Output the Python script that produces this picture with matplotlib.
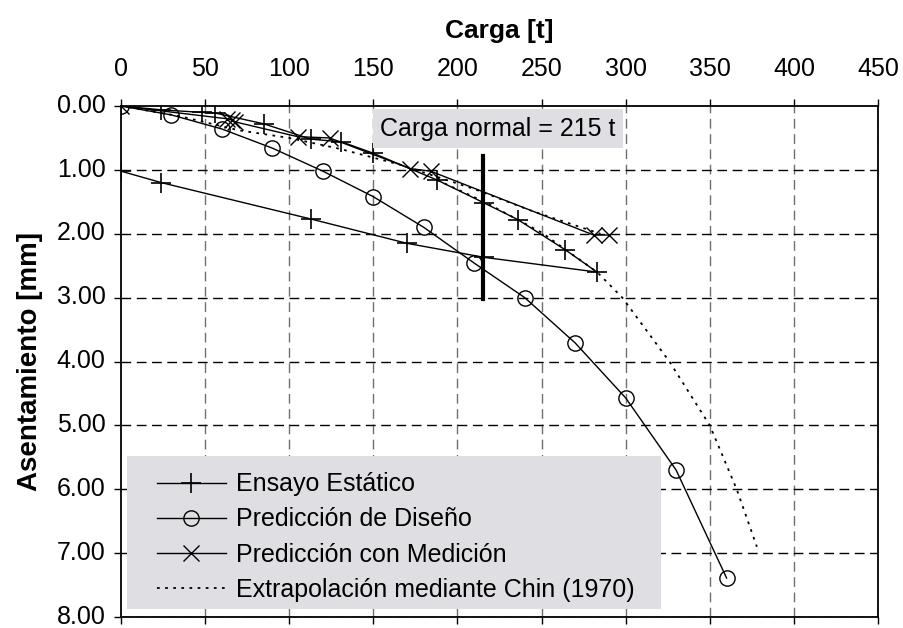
import matplotlib
matplotlib.use("Agg")
import matplotlib.pyplot as plt
from matplotlib.patches import Rectangle
from matplotlib.transforms import ScaledTranslation

plt.rcParams['font.family'] = ['Liberation Sans', 'DejaVu Sans']

# Ensayo Estático (carga / descarga)
ensayo_t = [0, 24, 48, 56, 85, 113, 131, 150, 188, 216, 236, 264, 283, 216, 170, 113, 24, 0]
ensayo_s = [0.00, 0.06, 0.10, 0.11, 0.28, 0.52, 0.56, 0.74, 1.16, 1.52, 1.78, 2.25, 2.60, 2.37, 2.15, 1.77, 1.20, 1.02]

# Predicción de Diseño
diseno_t = [0, 30, 60, 90, 120, 150, 180, 210, 240, 270, 300, 330, 360]
diseno_s = [0.00, 0.14, 0.36, 0.66, 1.02, 1.42, 1.90, 2.46, 3.00, 3.71, 4.57, 5.70, 7.39]

# Predicción con Medición
medicion_t = [0, 63, 66, 68, 105, 124, 172, 184, 281, 290]
medicion_s = [0.00, 0.20, 0.22, 0.25, 0.48, 0.50, 0.98, 1.02, 2.02, 2.02]

# Extrapolación mediante Chin (1970)
chin1_t = [0, 35, 70, 100, 130, 166, 210, 245, 285]
chin1_s = [0.00, 0.16, 0.38, 0.50, 0.67, 0.92, 1.30, 1.65, 2.00]
chin2_t = [188, 216, 250, 283, 298, 326, 350, 366, 378]
chin2_s = [1.16, 1.50, 1.98, 2.60, 3.00, 4.00, 5.00, 6.00, 6.90]

carga_normal = 215
carga_normal_s = [0.78, 3.02]

x_ticks = [0, 50, 100, 150, 200, 250, 300, 350, 400, 450]
y_ticks = [0, 1, 2, 3, 4, 5, 6, 7, 8]

W, H = 904, 628
L, R, T, B = 121, 878, 106, 617

fig = plt.figure(figsize=(W / 100, H / 100), dpi=100)
ax = fig.add_axes([L / W, 1 - B / H, (R - L) / W, (B - T) / H])

def ax_frac(px, py):
    return (px - L) / (R - L), (B - py) / (B - T)

ax.set_xlim(0, 450)
ax.set_ylim(8, 0)

ax.xaxis.tick_top()
ax.xaxis.set_label_position('top')
ax.set_xticks(x_ticks)
ax.set_yticks(y_ticks)
ax.set_yticklabels([f"{v:.2f}" for v in y_ticks])
ax.tick_params(axis='both', labelsize=18, direction='out', length=5, width=1)
ax.tick_params(axis='x', bottom=True, top=True, labelbottom=False, labeltop=True, pad=13)
ax.tick_params(axis='y', pad=6)

offset = ScaledTranslation(0, 2 / 72, fig.dpi_scale_trans)
for lab in ax.get_yticklabels():
    lab.set_transform(lab.get_transform() + offset)

for v in x_ticks[1:]:
    ax.axvline(v, color='#707070', lw=1.0, linestyle=(0, (7, 4)), zorder=1)
for v in y_ticks[1:]:
    ax.axhline(v, color='black', lw=1.0, linestyle=(0, (7, 4)), zorder=1)

for sp in ax.spines.values():
    sp.set_linewidth(1.3)
    sp.set_color('black')

ax.plot(chin1_t, chin1_s, color='black', lw=1.3, linestyle=(0, (1.5, 3)), zorder=2)
ax.plot(chin2_t, chin2_s, color='black', lw=1.3, linestyle=(0, (1.5, 3)), zorder=2)

ax.plot(ensayo_t, ensayo_s, color='black', lw=1.0, marker='+', ms=14, mew=1.2,
        label='Ensayo Estático', zorder=3)
ax.plot(diseno_t, diseno_s, color='black', lw=1.0, marker='o', ms=11, mew=1.0,
        mfc='none', label='Predicción de Diseño', zorder=3)
ax.plot(medicion_t, medicion_s, color='black', lw=1.0, marker='x', ms=12, mew=1.0,
        label='Predicción con Medición', zorder=3)
ax.plot([], [], color='black', lw=1.3, linestyle=(0, (1.5, 3)),
        label='Extrapolación mediante Chin (1970)')

ax.plot([carga_normal, carga_normal], carga_normal_s, color='black', lw=3, zorder=4)

ax.text(224, 0.36, 'Carga normal = 215 t', fontsize=18, ha='center', va='center',
        bbox=dict(boxstyle='square,pad=0.3', facecolor='#dfdee3', edgecolor='none'), zorder=5)

ax.set_xlabel('Carga [t]', fontsize=19, fontweight='bold', labelpad=14)
ax.set_ylabel('Asentamiento [mm]', fontsize=20, fontweight='bold', labelpad=10)

# legend background box
x0, y0 = ax_frac(127, 609)
x1, y1 = ax_frac(661, 456)
ax.add_patch(Rectangle((x0, y0), x1 - x0, y1 - y0, transform=ax.transAxes,
                       facecolor='#dfdee3', edgecolor='none', zorder=6))

lx, ly = ax_frac(157, 602)
leg = ax.legend(loc='lower left', bbox_to_anchor=(lx, ly), fontsize=18,
                frameon=False, handlelength=2.75, handletextpad=0.4,
                labelspacing=0.45, borderpad=0, borderaxespad=0)
leg.set_zorder(7)

fig.savefig('out.png', dpi=100)
